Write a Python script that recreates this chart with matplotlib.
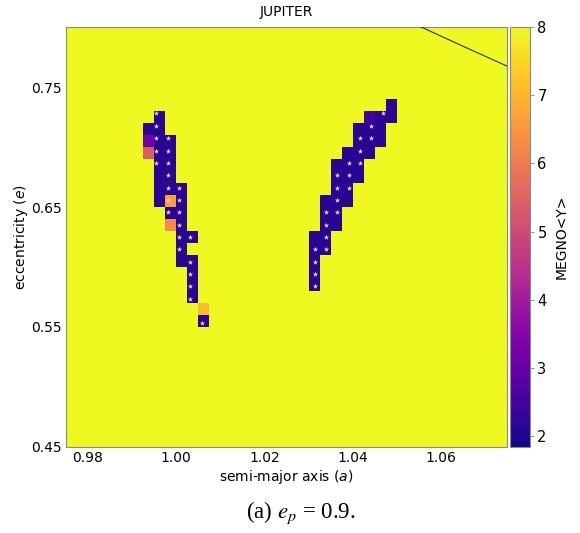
import numpy as np
import matplotlib
matplotlib.use("Agg")
import matplotlib.pyplot as plt

# Simulation grid: 40 semi-major axis samples x 35 eccentricity samples
a_min, a_max, n_a = 0.975, 1.075, 40
e_min, e_max, n_e = 0.45, 0.80, 35
a_values = np.linspace(a_min, a_max, n_a)
e_values = np.linspace(e_min, e_max, n_e)

megno_chaotic = 8.0      # saturated value for chaotic orbits
megno_regular = 2.15     # quasi-periodic orbits

# Regular-orbit runs: column index -> list of (first row, last row)
regular_runs = {
    7: [(26, 26)],
    8: [(20, 27)],
    9: [(19, 25)],
    10: [(15, 21)],
    11: [(12, 15), (17, 17)],
    12: [(10, 10)],
    22: [(13, 17)],
    23: [(16, 20)],
    24: [(18, 23)],
    25: [(20, 24)],
    26: [(22, 26)],
    27: [(24, 27)],
    28: [(25, 27)],
    29: [(27, 28)],
}

# Intermediate MEGNO values: (column, row, value)
intermediate_cells = [
    (7, 25, 3.2),
    (7, 24, 5.4),
    (9, 20, 6.65),
    (9, 18, 6.3),
    (12, 11, 7.1),
    (27, 27, 2.4),
]

# Orbits flagged as long-term stable: column index -> (first row, last row)
stable_runs = {
    8: [(23, 27)],
    9: [(19, 25)],
    10: [(16, 21)],
    11: [(12, 15), (17, 17)],
    12: [(10, 10)],
    22: [(13, 16)],
    23: [(16, 19)],
    24: [(19, 22)],
    25: [(21, 23)],
    26: [(23, 25)],
    27: [(25, 26)],
    28: [(27, 27)],
}

# Constant apocentre distance curve a(1+e) = Q
apocentre_q = 1.9

megno = np.full((n_e, n_a), megno_chaotic)
for col, runs in regular_runs.items():
    for r0, r1 in runs:
        megno[r0:r1 + 1, col] = megno_regular
for col, row, val in intermediate_cells:
    megno[row, col] = val

star_a, star_e = [], []
for col, runs in stable_runs.items():
    for r0, r1 in runs:
        for row in range(r0, r1 + 1):
            star_a.append(a_values[col])
            star_e.append(e_values[row])

fig = plt.figure(figsize=(5.8, 5.33), dpi=100)
ax = fig.add_axes([0.1138, 0.1614, 0.7603, 0.7879])
cax = fig.add_axes([0.8785, 0.1614, 0.0360, 0.7879])

im = ax.imshow(megno, origin="lower", extent=[a_min, a_max, e_min, e_max],
               aspect="auto", cmap="plasma", vmin=1.84, vmax=8.0,
               interpolation="nearest")
ax.scatter(star_a, star_e, marker="*", s=16, color="#f8d8c6", linewidths=0, zorder=3)

a_line = np.linspace(a_min, a_max, 200)
ax.plot(a_line, apocentre_q / a_line - 1, color="#303030", lw=0.8, zorder=4)

ax.set_xlim(a_min, a_max)
ax.set_ylim(e_min, e_max)
ax.set_xticks([0.98, 1.00, 1.02, 1.04, 1.06])
ax.set_xticklabels(["0.98", "1.00", "1.02", "1.04", "1.06"])
ax.set_yticks([0.45, 0.55, 0.65, 0.75])
ax.set_yticklabels(["0.45", "0.55", "0.65", "0.75"])
ax.tick_params(length=0, labelsize=10, pad=3)
for sp in ax.spines.values():
    sp.set_color("#8a8a8a")
    sp.set_linewidth(0.8)

ax.set_title("JUPITER", fontsize=10, pad=8)
ax.set_xlabel("semi-major axis ($a$)", fontsize=10, labelpad=2)
ax.set_ylabel("eccentricity ($e$)", fontsize=10, labelpad=1)

cb = fig.colorbar(im, cax=cax)
cb.set_ticks([2, 3, 4, 5, 6, 7, 8])
cb.ax.tick_params(labelsize=10.5, length=3, width=0.6, color="#8a8a8a", pad=2)
cb.outline.set_edgecolor("#8a8a8a")
cb.outline.set_linewidth(0.8)
cb.set_label("MEGNO<Y>", fontsize=10, labelpad=6)

fig.text(0.518, 0.038, r"(a) $e_p$ = 0.9.", fontsize=16.5, ha="center", va="center",
         family="Liberation Serif", math_fontfamily="stix")

fig.savefig("out.png", dpi=100)
